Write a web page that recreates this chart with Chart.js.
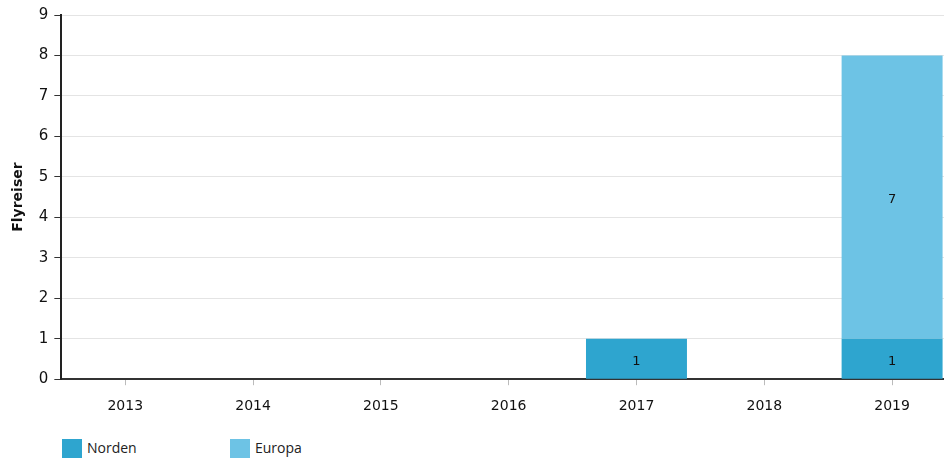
<!DOCTYPE html>
<html>
<head>
<meta charset="utf-8">
<script src="https://cdn.jsdelivr.net/npm/chart.js@4/dist/chart.umd.min.js"></script>
<style>
html,body{margin:0;padding:0;background:#fff;overflow:hidden;width:944px;height:461px;}
#wrap{position:absolute;left:0;top:0;width:956px;height:428px;}
#legend{position:absolute;top:437px;left:62px;font-family:"Open Sans","DejaVu Sans",sans-serif;font-size:14px;color:#222;}
.item{position:absolute;top:0;white-space:nowrap;line-height:20px;}
.sw{display:inline-block;width:20px;height:19px;vertical-align:middle;margin-right:5px;}
.item span.t{vertical-align:middle;}
</style>
</head>
<body>
<div id="wrap"><canvas id="c" width="956" height="428"></canvas></div>
<div id="legend"></div>
<script>
const categories = ["2013","2014","2015","2016","2017","2018","2019"];
const norden = [0,0,0,0,1,0,1];
const europa = [0,0,0,0,0,0,7];
const seriesNames = ["Norden","Europa"];
const colors = ["#2ea5cf","#6dc3e5"];
const yTicks = [0,1,2,3,4,5,6,7,8,9];
const yTitle = "Flyreiser";

const font = "'DejaVu Sans', Verdana, sans-serif";

const labelPlugin = {
  id:'barLabels',
  afterDatasetsDraw(chart){
    const ctx = chart.ctx;
    ctx.save();
    ctx.font = "13px " + font;
    ctx.fillStyle = "#111";
    ctx.textAlign = "center";
    ctx.textBaseline = "middle";
    chart.data.datasets.forEach((ds,i)=>{
      const meta = chart.getDatasetMeta(i);
      meta.data.forEach((el,j)=>{
        const v = ds.data[j];
        if(v>0){
          ctx.fillText(String(v), el.x, (el.y+el.base)/2 + 3);
        }
      });
    });
    ctx.restore();
  }
};

new Chart(document.getElementById('c'),{
  type:'bar',
  data:{
    labels:categories,
    datasets:[
      {label:seriesNames[0],data:norden,backgroundColor:colors[0],barPercentage:0.79,categoryPercentage:1},
      {label:seriesNames[1],data:europa,backgroundColor:colors[1],barPercentage:0.79,categoryPercentage:1}
    ]
  },
  options:{
    responsive:false,
    animation:false,
    devicePixelRatio:1,
    layout:{padding:{top:3,right:0,left:4,bottom:0}},
    plugins:{legend:{display:false},tooltip:{enabled:false}},
    scales:{
      x:{
        stacked:true,
        border:{color:"#333",width:2},
        grid:{display:true,drawOnChartArea:false,offset:false,tickLength:6,color:"#bbb"},
        ticks:{color:"#111",font:{family:font,size:14},padding:13}
      },
      y:{
        stacked:true,
        min:0,max:9,
        afterBuildTicks(axis){axis.ticks = yTicks.map(v=>({value:v}));},
        border:{color:"#222",width:2,dash:[]},
        grid:{color:"#e4e4e4",tickLength:7,tickColor:"#333",tickBorderDash:[],borderDash:[3,3]},
        ticks:{color:"#111",font:{family:font,size:15},padding:6},
        title:{display:true,text:yTitle,color:"#111",font:{family:font,size:14,weight:'bold'},padding:{top:6,bottom:6}}
      }
    }
  },
  plugins:[labelPlugin]
});

const lg = document.getElementById('legend');
const lefts=[0,168];
seriesNames.forEach((n,i)=>{
  const d=document.createElement('div');
  d.className='item';
  d.style.left=lefts[i]+'px';
  d.innerHTML='<span class="sw" style="background:'+colors[i]+'"></span><span class="t">'+n+'</span>';
  lg.appendChild(d);
});
</script>
</body>
</html>
